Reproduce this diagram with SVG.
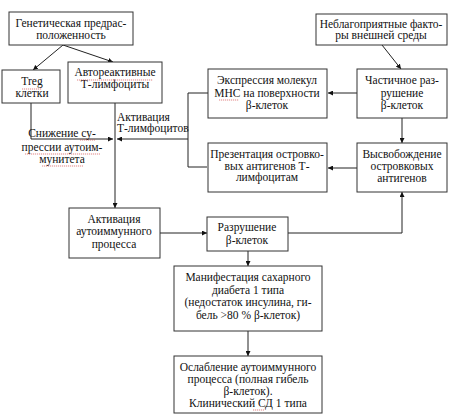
<svg xmlns="http://www.w3.org/2000/svg" width="474" height="414" viewBox="0 0 474 414">
<defs>
<marker id="ah" viewBox="0 0 10 10" refX="10" refY="5" markerWidth="5" markerHeight="5" orient="auto" markerUnits="userSpaceOnUse">
<path d="M0,0 L10,5 L0,10 z" fill="#111"/>
</marker>
<style>
.box{fill:#fff;stroke:#333;stroke-width:1}
text{font-family:"Liberation Serif","Times New Roman",serif;font-size:11.5px;fill:#111;text-anchor:middle}
.l{text-anchor:start}
.c{fill:none;stroke:#222;stroke-width:1}
.a{marker-end:url(#ah)}
.sq{fill:none;stroke:#d04040;stroke-width:0.8;stroke-dasharray:1.2 0.8;opacity:0.8}
</style>
</defs>
<rect width="474" height="414" fill="#fff"/>

<g id="connectors">
<path class="c a" d="M63,45 L33,70"/>
<path class="c a" d="M63,45 L113,62"/>
<path class="c a" d="M31,103 V139 H113"/>
<path class="c a" d="M115,103 V208"/>
<path class="c a" d="M208,93 H188 V167 H207 M188,139 H117"/>
<path class="c a" d="M382,45 L401,69"/>
<path class="c a" d="M357,93 H328"/>
<path class="c a" d="M402,118 V143"/>
<path class="c a" d="M357,168 H328"/>
<path class="c a" d="M160,233 H207"/>
<path class="c a" d="M288,233 H402 V192"/>
<path class="c a" d="M248,251 V266"/>
<path class="c a" d="M248,331 V356"/>
</g>

<g id="n-genetic">
<rect class="box" x="9" y="12" width="124" height="33"/>
<text x="71" y="27">Генетическая предрас-</text>
<text x="71" y="39">положенность</text>
</g>

<g id="n-treg">
<rect class="box" x="2" y="70" width="58" height="33"/>
<text x="32" y="85">Treg</text>
<text x="32" y="97">клетки</text>
<path class="sq" d="M22,89 H42"/>
</g>

<g id="n-autoreactive">
<rect class="box" x="68" y="62" width="94" height="41"/>
<text x="115" y="76">Автореактивные</text>
<text x="115" y="88">Т-лимфоциты</text>
<path class="sq" d="M77,80 H153"/>
</g>

<g id="n-activation-label">
<text class="l" x="117" y="121">Активация</text>
<text class="l" x="117" y="132">Т-лимфоцитов</text>
</g>

<g id="n-suppression-label">
<text x="62" y="137">Снижение су-</text>
<text x="62" y="151">прессии аутоим-</text>
<text x="62" y="163">мунитета</text>
<path class="sq" d="M80,140 H95 M25,154 H100 M42,166 H83"/>
</g>

<g id="n-expression">
<rect class="box" x="208" y="69" width="119" height="49"/>
<text x="267" y="84">Экспрессия молекул</text>
<text x="267" y="97">МНС на поверхности</text>
<text x="267" y="109">β-клеток</text>
<path class="sq" d="M219,100 H239"/>
</g>

<g id="n-presentation">
<rect class="box" x="208" y="143" width="119" height="49"/>
<text x="267" y="158">Презентация островко-</text>
<text x="267" y="170">вых антигенов Т-</text>
<text x="267" y="181">лимфоцитам</text>
</g>

<g id="n-environment">
<rect class="box" x="316" y="14" width="131" height="31"/>
<text x="381" y="28">Неблагоприятные факто-</text>
<text x="381" y="39">ры внешней среды</text>
</g>

<g id="n-partial">
<rect class="box" x="357" y="69" width="90" height="49"/>
<text x="402" y="84">Частичное раз-</text>
<text x="402" y="97">рушение</text>
<text x="402" y="109">β-клеток</text>
</g>

<g id="n-release">
<rect class="box" x="357" y="143" width="90" height="49"/>
<text x="402" y="158">Высвобождение</text>
<text x="402" y="170">островковых</text>
<text x="402" y="182">антигенов</text>
</g>

<g id="n-autoimmune">
<rect class="box" x="69" y="208" width="91" height="50"/>
<text x="114" y="223">Активация</text>
<text x="114" y="235">аутоиммунного</text>
<text x="114" y="248">процесса</text>
</g>

<g id="n-destruction">
<rect class="box" x="207" y="217" width="81" height="34"/>
<text x="247" y="231">Разрушение</text>
<text x="247" y="244">β-клеток</text>
</g>

<g id="n-manifestation">
<rect class="box" x="174" y="266" width="148" height="65"/>
<text x="248" y="281">Манифестация сахарного</text>
<text x="248" y="294">диабета 1 типа</text>
<text x="248" y="306">(недостаток инсулина, ги-</text>
<text x="248" y="319">бель &gt;80 % β-клеток)</text>
</g>

<g id="n-weakening">
<rect class="box" x="174" y="356" width="148" height="57"/>
<text x="248" y="371">Ослабление аутоиммунного</text>
<text x="248" y="383">процесса (полная гибель</text>
<text x="248" y="395">β-клеток).</text>
<text x="248" y="407">Клинический СД 1 типа</text>
<path class="sq" d="M253,410 H264"/>
</g>
</svg>
